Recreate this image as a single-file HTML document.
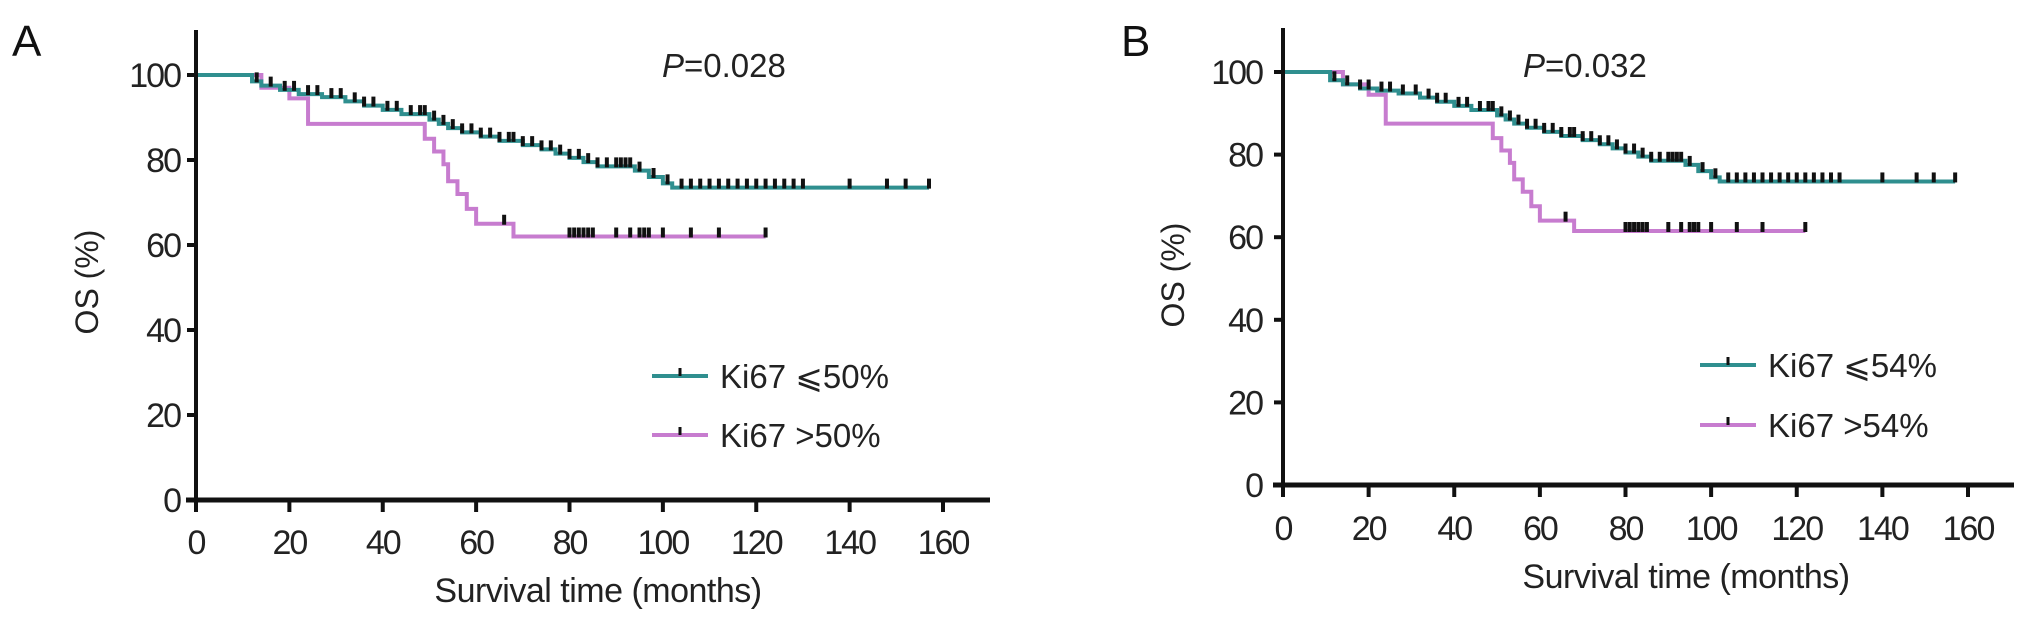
<!DOCTYPE html>
<html><head><meta charset="utf-8"><style>
html,body{margin:0;padding:0;background:#fff;}
svg{display:block;font-family:"Liberation Sans",Arial,sans-serif;}
</style></head><body>
<svg id="c" width="2032" height="621" viewBox="0 0 2032 621"></svg>
<script>
const xTicks=[0,20,40,60,80,100,120,140,160];
const yTicks=[0,20,40,60,80,100];
// Panel A data
const aLowT=[0,12,14,18,22,27,32,36,40,44,50,52,54,57,61,65,70,74,77,80,83,86,94,97,100,102];
const aLowS=[100,98.5,97.5,96.5,95.5,94.8,93.8,92.8,91.8,90.8,89.5,88.5,87.5,86.5,85.5,84.5,83.5,82.5,81.5,80.5,79.5,78.5,77.5,76,74.5,73.5];
const aLowEnd=157;
const aLowCens=[13,16,19,21,24,26,29,31,34,36,38,41,43,46,48,49,51,53,55,57,59,61,63,65,67,68,70,72,74,76,78,80,82,84,86,88,90,91,92,93,95,98,101,104,106,108,110,112,114,116,118,120,122,124,126,128,130,140,148,152,157];
const aHighT=[0,14,20,24,49,51,53,54,56,58,60,68];
const aHighS=[100,97,94.5,88.5,85,82,79,75,72,68.5,65,62];
const aHighEnd=122;
const aHighCens=[66,80,81,82,83,84,85,90,93,95,96,97,100,106,112,122];
// Panel B data
const bLowT=[0,11,14,18,22,27,32,36,40,44,50,52,54,57,61,65,70,74,77,80,83,86,94,97,100,102];
const bLowS=[100,98,97,96,95.5,94.8,93.8,92.8,91.8,90.8,89.5,88.5,87.5,86.5,85.5,84.5,83.5,82.5,81.5,80.5,79.5,78.5,77.5,76,74.5,73.5];
const bLowEnd=157;
const bLowCens=[12,15,18,20,23,25,28,31,34,36,38,41,43,46,48,49,51,53,55,57,59,61,63,65,67,68,70,72,74,76,78,80,82,84,86,88,90,91,92,93,95,98,101,104,106,108,110,112,114,116,118,120,122,124,126,128,130,140,148,152,157];
const bHighT=[0,14,20,24,49,51,53,54,56,58,60,68];
const bHighS=[100,97,94.5,87.5,84,81,78,74,71,67.5,64,61.5];
const bHighEnd=122;
const bHighCens=[66,80,81,82,83,84,85,90,93,95,96,97,100,106,112,122];

const NS="http://www.w3.org/2000/svg";
const svg=document.getElementById('c');
function mk(tag,attrs,parent){const e=document.createElementNS(NS,tag);for(const k in attrs)e.setAttribute(k,attrs[k]);(parent||svg).appendChild(e);return e;}

function panel(cfg){
  const g=mk('g',{});
  
  
  const X=t=>cfg.x0+t*(cfg.x160-cfg.x0)/160;
  const Y=s=>cfg.y0-s*(cfg.y0-cfg.y100)/100;
  function curve(T,S,end,cens,color,nm){
    let d='M'+X(T[0])+' '+Y(S[0]);
    for(let i=1;i<T.length;i++){d+=' H'+X(T[i])+' V'+Y(S[i]);}
    d+=' H'+X(end);
    const p=mk('path',{d:d,fill:'none',stroke:color,'stroke-width':4},g);
    
    
    const sAt=t=>{let s=S[0];for(let i=0;i<T.length;i++){if(T[i]<=t)s=S[i];}return s;};
    cens.forEach(t=>{
      const yy=Y(sAt(t));
      const m=mk('line',{x1:X(t),x2:X(t),y1:yy-9,y2:yy+1,stroke:'#111','stroke-width':4},g);
      
      
    });
  }
  curve(cfg.hT,cfg.hS,cfg.hEnd,cfg.hC,'#c77ccf','high-ki67');
  curve(cfg.lT,cfg.lS,cfg.lEnd,cfg.lC,'#2f8f8f','low-ki67');
  const ya=mk('line',{x1:cfg.x0,x2:cfg.x0,y1:cfg.yTop,y2:cfg.y0+8,stroke:'#111','stroke-width':4},g);
  
  const xa=mk('line',{x1:cfg.x0-10,x2:cfg.xEnd,y1:cfg.y0,y2:cfg.y0,stroke:'#111','stroke-width':5},g);
  
  yTicks.forEach(v=>{
    const t=mk('line',{x1:cfg.x0-9,x2:cfg.x0,y1:Y(v),y2:Y(v),stroke:'#111','stroke-width':4},g);
    
    const l=mk('text',{x:cfg.yLabR,y:Y(v)+12,'text-anchor':'end','font-size':34,fill:'#222','letter-spacing':-2},g);
    l.textContent=v;
  });
  xTicks.forEach(v=>{
    const t=mk('line',{x1:X(v),x2:X(v),y1:cfg.y0,y2:cfg.y0+12,stroke:'#111','stroke-width':4},g);
    
    const l=mk('text',{x:X(v),y:cfg.xLabY+12,'text-anchor':'middle','font-size':34,fill:'#222','letter-spacing':-2},g);
    l.textContent=v;
  });
  const xt=mk('text',{x:cfg.xTitleX,y:cfg.xTitleY+12,'text-anchor':'middle','font-size':34,fill:'#222','letter-spacing':-0.5},g);
  xt.textContent='Survival time (months)';
  const yt=mk('text',{x:0,y:0,'text-anchor':'middle','font-size':32,fill:'#222',transform:'translate('+(cfg.yTitleX+11)+','+cfg.yTitleY+') rotate(-90)'},g);
  yt.textContent='OS (%)';
  const pl=mk('text',{x:cfg.letterX,y:56,'font-size':44,fill:'#111'},g);
  pl.textContent=cfg.letter;
  const pv=mk('text',{x:cfg.pX,y:77,'font-size':33,fill:'#222'},g);
  pv.innerHTML='<tspan font-style="italic">P</tspan>='+cfg.p;
  
  [[cfg.leg1Y,'#2f8f8f',cfg.l1],[cfg.leg2Y,'#c77ccf',cfg.l2]].forEach(([yy,col,txt],i)=>{
    const lg=mk('g',{},g);
    
    
    mk('line',{x1:cfg.legX,x2:cfg.legX+56,y1:yy,y2:yy,stroke:col,'stroke-width':4},lg);
    mk('line',{x1:cfg.legX+28,x2:cfg.legX+28,y1:yy-8,y2:yy,stroke:'#111','stroke-width':3},lg);
    const tx=mk('text',{x:cfg.legX+68,y:yy+12,'font-size':33,fill:'#222'},lg);
    tx.textContent=txt;
  });
}
panel({name:'panel-a',letter:'A',letterX:12,x0:196,x160:943,xEnd:990,y0:500,y100:75,yTop:30,yLabR:180,xLabY:542,xTitleX:598,xTitleY:590,yTitleX:87,yTitleY:282,pX:662,p:'0.028',legX:652,leg1Y:376,leg2Y:435,l1:'Ki67 \u2a7d50%',l2:'Ki67 >50%',
  lT:aLowT,lS:aLowS,lEnd:aLowEnd,lC:aLowCens,hT:aHighT,hS:aHighS,hEnd:aHighEnd,hC:aHighCens});
panel({name:'panel-b',letter:'B',letterX:1121,x0:1283,x160:1968,xEnd:2014,y0:485,y100:72,yTop:28,yLabR:1262,xLabY:528,xTitleX:1686,xTitleY:576,yTitleX:1173,yTitleY:275,pX:1523,p:'0.032',legX:1700,leg1Y:365,leg2Y:425,l1:'Ki67 \u2a7d54%',l2:'Ki67 >54%',
  lT:bLowT,lS:bLowS,lEnd:bLowEnd,lC:bLowCens,hT:bHighT,hS:bHighS,hEnd:bHighEnd,hC:bHighCens});
</script>
</body></html>
